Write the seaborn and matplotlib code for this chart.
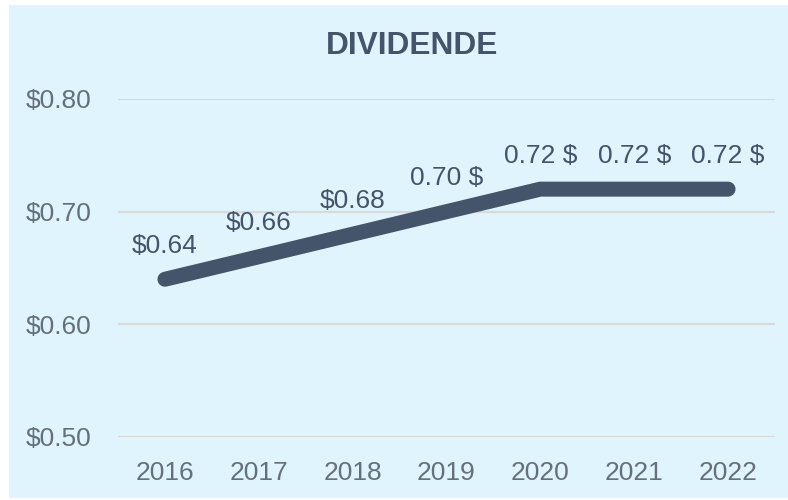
import matplotlib
matplotlib.use("Agg")
import matplotlib.pyplot as plt
from matplotlib.patches import Rectangle
import seaborn as sns
import pandas as pd

years = ["2016", "2017", "2018", "2019", "2020", "2021", "2022"]
dividend = [0.64, 0.66, 0.68, 0.70, 0.72, 0.72, 0.72]
value_labels = ["$0.64", "$0.66", "$0.68", "0.70 $", "0.72 $", "0.72 $", "0.72 $"]
y_ticks = [0.50, 0.60, 0.70, 0.80]
y_tick_labels = ["$0.50", "$0.60", "$0.70", "$0.80"]

BG = "#E0F4FD"
INK = "#44546A"
TICK = "#65707F"

sns.set_theme(style="white")
plt.rcParams["font.family"] = ["Liberation Sans", "DejaVu Sans"]

df = pd.DataFrame({"year": years, "dividend": dividend})

fig = plt.figure(figsize=(7.88, 5.0), dpi=100, facecolor="white")
fig.patches.append(Rectangle((9 / 788, 2 / 500), 1 - 9 / 788, 493 / 500,
                             transform=fig.transFigure, facecolor=BG,
                             edgecolor="none", zorder=-10))
ax = fig.add_axes([118 / 788, 1 - 437 / 500, (775 - 118) / 788, (437 - 99) / 500])
ax.set_facecolor("none")

sns.lineplot(data=df, x="year", y="dividend", ax=ax, color=INK, linewidth=10.8,
             sort=False, zorder=3)
for ln in ax.get_lines():
    ln.set_solid_capstyle("round")
    ln.set_solid_joinstyle("round")
    ln.set_clip_on(False)

for i, (v, lab) in enumerate(zip(dividend, value_labels)):
    ax.annotate(lab, (i, v), xytext=(0, 24), textcoords="offset points",
                ha="center", va="center", fontsize=19, color=INK, zorder=4)

ax.set_xlim(-0.5, len(years) - 0.5)
ax.set_ylim(0.50, 0.80)
ax.set_yticks(y_ticks)
ax.set_yticklabels(y_tick_labels)
ax.grid(axis="y", color="#D9D9D9", linewidth=1.5, zorder=1)
ax.grid(axis="x", visible=False)
ax.set_axisbelow(True)
for s in ax.spines.values():
    s.set_visible(False)
ax.tick_params(axis="both", length=0, labelsize=19, labelcolor=TICK)
ax.tick_params(axis="y", pad=19)
ax.tick_params(axis="x", pad=17)
ax.set_xlabel("")
ax.set_ylabel("")

fig.text(412 / 788, 1 - 46 / 500, "DIVIDENDE", ha="center", va="center",
         fontsize=22.8, fontweight="bold", color=INK)

fig.savefig("out.png", dpi=100, facecolor="white")
